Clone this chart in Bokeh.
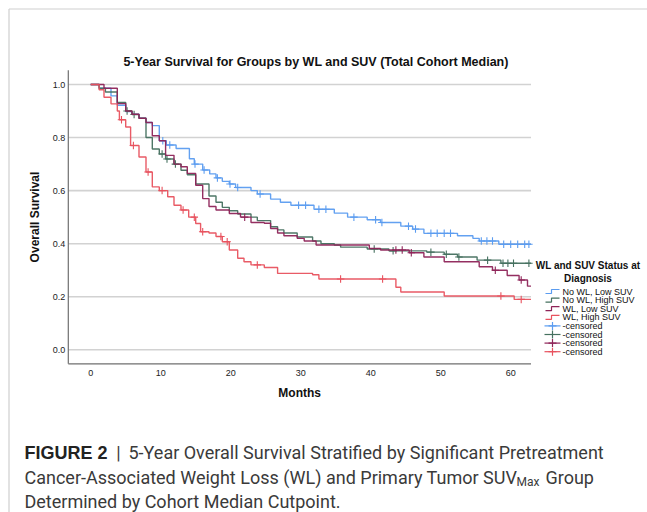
import math
import numpy as np
from bokeh.plotting import figure
from bokeh.models import Range1d, Label
from bokeh.embed import file_html
from bokeh.resources import INLINE
from bokeh.core.properties import value

# ---------------- data ----------------
months_nowl_low = [0, 1.2, 2.9, 3.8, 5, 5.9, 6.9, 7.9, 8.8, 9.8, 10.8, 12.2, 14.1, 14.8, 16, 17, 17.9, 18.8,
                   19.8, 20.7, 22.9, 23.8, 25.7, 27.1, 28.6, 31.9, 34.8, 36.7, 39.5, 41.4, 44.3, 46, 47.6,
                   52.4, 54.6, 55.5, 58.3, 62.9]
surv_nowl_low = [1, 0.986, 0.957, 0.922, 0.898, 0.888, 0.873, 0.857, 0.845, 0.788, 0.772, 0.759, 0.72, 0.70,
                 0.678, 0.663, 0.648, 0.635, 0.625, 0.612, 0.60, 0.587, 0.568, 0.556, 0.545, 0.53, 0.515,
                 0.50, 0.49, 0.48, 0.466, 0.455, 0.439, 0.43, 0.42, 0.41, 0.398, 0.398]
cens_nowl_low = [10.3, 11.3, 14.9, 16.2, 18.1, 19.9, 21.0, 24.2, 29.7, 30.7, 32.6, 33.6, 37.6, 40.7, 41.6,
                 45.4, 46.4, 48.6, 49.5, 50.5, 51.4, 55.8, 56.6, 57.4, 59, 60, 61, 62, 62.6]

months_nowl_high = [0, 1.2, 2.1, 3.8, 5, 5.9, 6.9, 7.9, 8.8, 9.8, 10.7, 11.9, 12.9, 13.8, 15, 16.9, 17.9,
                    18.8, 19.8, 21, 22.9, 23.8, 25.7, 26.7, 27.6, 29.5, 31.7, 32.9, 34.8, 35.7, 39.5, 42.6,
                    48, 50.5, 52.4, 55.2, 58.6, 62.9]
surv_nowl_high = [1, 0.986, 0.972, 0.932, 0.90, 0.887, 0.873, 0.80, 0.757, 0.738, 0.719, 0.70, 0.677, 0.66,
                  0.625, 0.58, 0.556, 0.537, 0.524, 0.512, 0.50, 0.487, 0.464, 0.452, 0.44, 0.425, 0.41,
                  0.40, 0.395, 0.387, 0.38, 0.373, 0.368, 0.36, 0.35, 0.338, 0.326, 0.326]
cens_nowl_high = [5.2, 6.2, 10.2, 10.9, 12.1, 40.5, 43.2, 48.6, 50.8, 52.6, 56.7, 58.9, 59.6, 60.4, 62.6]

months_wl_low = [0, 1.9, 3.8, 5, 5.9, 6.9, 7.9, 8.8, 9.8, 10.7, 11.9, 12.9, 13.8, 15, 16, 16.9, 17.9, 19.8,
                 21.4, 22.9, 24.8, 25.7, 26.7, 27.6, 29.5, 30.5, 32.2, 39.8, 41.4, 45.5, 47.6, 50.5, 55.5,
                 57.4, 59.5, 61.2, 62.4, 62.9]
surv_wl_low = [1, 0.986, 0.928, 0.90, 0.888, 0.873, 0.857, 0.807, 0.788, 0.733, 0.70, 0.69, 0.665, 0.62,
               0.57, 0.54, 0.527, 0.514, 0.50, 0.48, 0.477, 0.457, 0.44, 0.43, 0.42, 0.41, 0.395, 0.382,
               0.376, 0.366, 0.35, 0.332, 0.313, 0.30, 0.28, 0.263, 0.24, 0.24]
cens_wl_low = [22.0, 43.6, 44.5, 45.8, 57.8, 61.5]

months_wl_high = [0, 1.2, 1.9, 2.9, 3.8, 4.1, 5, 5.7, 6.9, 7.9, 8.8, 9.8, 11, 11.9, 12.9, 14, 15, 15.7,
                  16.9, 17.9, 18.8, 19.8, 21, 21.9, 22.9, 24.8, 26.7, 31.7, 32.6, 43.6, 44.3, 50.5, 60.5,
                  62.9]
surv_wl_high = [1, 0.98, 0.952, 0.927, 0.90, 0.867, 0.84, 0.77, 0.727, 0.67, 0.614, 0.60, 0.577, 0.545,
                0.527, 0.50, 0.476, 0.445, 0.44, 0.427, 0.407, 0.376, 0.345, 0.332, 0.32, 0.31, 0.288,
                0.283, 0.267, 0.236, 0.218, 0.203, 0.19, 0.19]
cens_wl_high = [4.4, 6.1, 8.2, 10.2, 13.2, 14.8, 16.0, 18.6, 19.5, 23.8, 35.7, 41.7, 58.6, 61.5]

group_labels = ["No WL, Low SUV", "No WL, High SUV", "WL, Low SUV", "WL, High SUV"]
group_colors = ["#5b9cf0", "#45705f", "#8e2458", "#e8525e"]
x_ticks = [0, 10, 20, 30, 40, 50, 60]
y_ticks = [0.0, 0.2, 0.4, 0.6, 0.8, 1.0]
x_axis_range = (-3.2, 62.9)
y_axis_range = (-0.053, 1.054)

series = [
    (months_nowl_low, surv_nowl_low, cens_nowl_low),
    (months_nowl_high, surv_nowl_high, cens_nowl_high),
    (months_wl_low, surv_wl_low, cens_wl_low),
    (months_wl_high, surv_wl_high, cens_wl_high),
]

# ---------------- page geometry (pixels) ----------------
W, H = 647, 512
T0_PX, PX_PER_MONTH = 90.2, 7.0      # x pixel of month 0, pixels per month
S0_PX, PX_PER_UNIT = 349.3, 265.3    # y pixel of survival 0, pixels per unit survival


def dx(px):
    return (px - T0_PX) / PX_PER_MONTH


def dy(py):
    return (S0_PX - py) / PX_PER_UNIT


p = figure(width=W, height=H, output_backend="svg", toolbar_location=None,
           x_range=Range1d(dx(0), dx(W)), y_range=Range1d(dy(H), dy(0)),
           x_axis_location=None, y_axis_location=None, min_border=0,
           background_fill_color="white", border_fill_color="white")
p.outline_line_color = None
p.grid.visible = False

FONT = "Liberation Sans"
INK = "#111111"

# outer figure border
p.segment(x0=[dx(8.5), dx(8.5)], y0=[dy(8.5), dy(8.5)], x1=[dx(8.5), dx(W)], y1=[dy(H), dy(8.5)],
          line_color="#cfcfcf", line_width=1.2)

# grid lines
xa0, xa1 = x_axis_range
ya0, ya1 = y_axis_range
p.segment(x0=[xa0] * len(y_ticks), y0=y_ticks, x1=[xa1] * len(y_ticks), y1=y_ticks,
          line_color="#d2d2d2", line_width=1.6)

# axis lines
p.segment(x0=[xa0, xa0], y0=[ya0, ya0], x1=[xa0, xa1], y1=[ya1, ya0], line_color="#6f6f6f", line_width=1.2)

# tick labels
p.text(x=x_ticks, y=[ya0] * len(x_ticks), text=[str(t) for t in x_ticks], y_offset=9.5,
       text_font=value(FONT), text_font_size="9px", text_align="center", text_baseline="middle",
       text_color="#222222")
p.text(x=[xa0] * len(y_ticks), y=y_ticks, text=["%.1f" % v for v in y_ticks], x_offset=-3,
       text_font=value(FONT), text_font_size="9px", text_align="right", text_baseline="middle",
       text_color="#222222")

# axis titles and chart title
p.add_layout(Label(x=(xa0 + xa1) / 2, y=dy(392), text="Months", text_font=FONT, text_font_style="bold",
                   text_font_size="12px", text_align="center", text_baseline="middle", text_color=INK))
p.add_layout(Label(x=dx(34), y=(ya0 + ya1) / 2, text="Overall Survival", angle=math.pi / 2,
                   text_font=FONT, text_font_style="bold", text_font_size="12px",
                   text_align="center", text_baseline="middle", text_color=INK))
p.add_layout(Label(x=dx(315.5), y=dy(61), text="5-Year Survival for Groups by WL and SUV (Total Cohort Median)",
                   text_font=FONT, text_font_style="bold", text_font_size="12.5px",
                   text_align="center", text_baseline="alphabetic", text_color=INK))

# survival curves and censor marks
for (t, s, c), col in zip(series, group_colors):
    t = np.asarray(t, dtype=float)
    s = np.asarray(s, dtype=float)
    p.step(t, s, mode="after", line_color=col, line_width=1.4, line_alpha=0.95)
    c = np.asarray(c, dtype=float)
    idx = np.searchsorted(t, c, side="right") - 1
    p.scatter(c, s[idx], marker="cross", size=7.5, line_color=col, line_width=1.1)

# legend (drawn by hand so it can sit outside the plotting area like the original)
p.add_layout(Label(x=dx(587.5), y=dy(265), text="WL and SUV Status at", text_font=FONT,
                   text_font_style="bold", text_font_size="10px", text_align="center",
                   text_baseline="middle", text_color=INK))
p.add_layout(Label(x=dx(587.5), y=dy(277.5), text="Diagnosis", text_font=FONT,
                   text_font_style="bold", text_font_size="10px", text_align="center",
                   text_baseline="middle", text_color=INK))
row_px = [291 + 8.6 * i for i in range(8)]
legend_texts = group_labels + ["-censored"] * 4
legend_cols = group_colors + group_colors
for i, (yr, lab, col) in enumerate(zip(row_px, legend_texts, legend_cols)):
    if i < 4:
        p.line([dx(545), dx(551), dx(551), dx(559)], [dy(yr + 2), dy(yr + 2), dy(yr - 2), dy(yr - 2)],
               line_color=col, line_width=1.2)
    else:
        p.line([dx(544), dx(560)], [dy(yr), dy(yr)], line_color=col, line_width=1.2)
        p.scatter([dx(552)], [dy(yr)], marker="cross", size=8, line_color=col, line_width=1.2)
p.text(x=[dx(562)] * 8, y=[dy(v) for v in row_px], text=legend_texts, text_font=value(FONT),
       text_font_size="9px", text_align="left", text_baseline="middle", text_color=INK)

# caption
CAP_FONT = "Roboto"
CAP_COL = "#3a3a3a"
p.add_layout(Label(x=dx(24), y=dy(452), text="FIGURE 2", text_font=FONT, text_font_style="bold",
                   text_font_size="18px", text_baseline="alphabetic", text_color="#222222"))
p.add_layout(Label(x=dx(118), y=dy(452), text="|", text_font=CAP_FONT, text_font_size="18px",
                   text_align="center", text_baseline="alphabetic", text_color=CAP_COL))
p.add_layout(Label(x=dx(128), y=dy(452), text="5-Year Overall Survival Stratified by Significant Pretreatment",
                   text_font=CAP_FONT, text_font_size="18px", text_baseline="alphabetic", text_color=CAP_COL))
p.add_layout(Label(x=dx(24), y=dy(477), text="Cancer-Associated Weight Loss (WL) and Primary Tumor SUV",
                   text_font=CAP_FONT, text_font_size="18px", text_baseline="alphabetic", text_color=CAP_COL))
p.add_layout(Label(x=dx(516), y=dy(481), text="Max", text_font=CAP_FONT, text_font_size="12px",
                   text_baseline="alphabetic", text_color=CAP_COL))
p.add_layout(Label(x=dx(545), y=dy(477), text="Group", text_font=CAP_FONT, text_font_size="18px",
                   text_baseline="alphabetic", text_color=CAP_COL))
p.add_layout(Label(x=dx(24), y=dy(501), text="Determined by Cohort Median Cutpoint.",
                   text_font=CAP_FONT, text_font_size="18px", text_baseline="alphabetic", text_color=CAP_COL))

open("out.html", "w").write(file_html(p, INLINE))
